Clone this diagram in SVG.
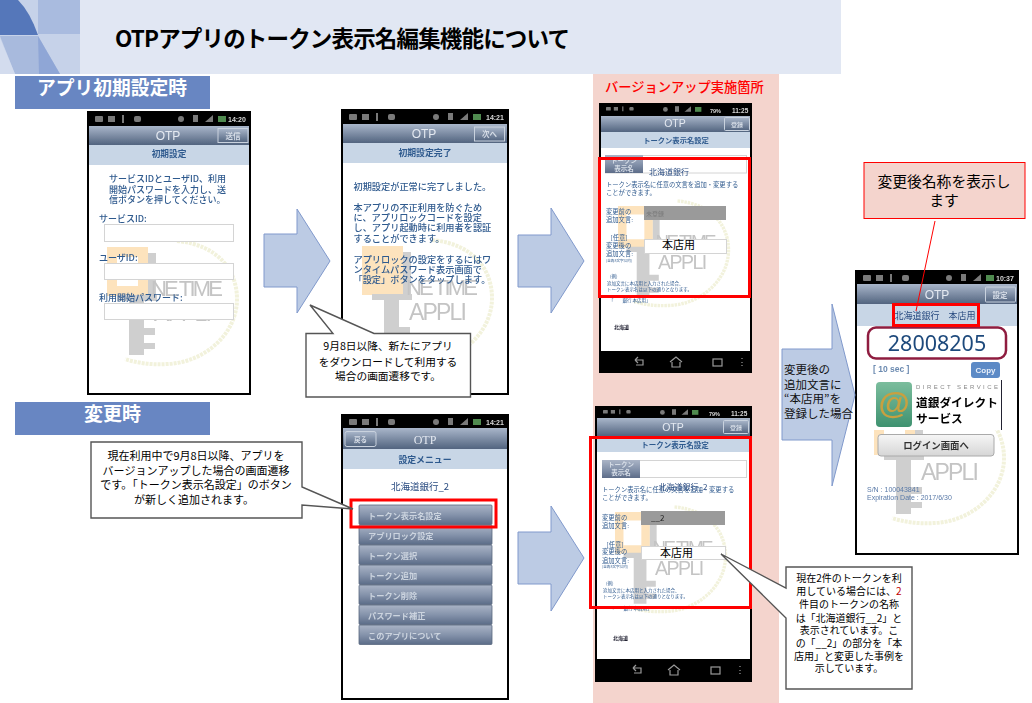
<svg xmlns="http://www.w3.org/2000/svg" xmlns:xlink="http://www.w3.org/1999/xlink" width="1032" height="703" viewBox="0 0 1032 703">
<style>
text{font-family:"Noto Sans CJK JP","Noto Sans",sans-serif}
.lat{font-family:"Liberation Sans",sans-serif}
.c{text-anchor:middle}
.k{fill:#000}
.t{fill:#2f5a8e}
.b{font-weight:700}
.otp{fill:#e4e9f1;font-family:"Liberation Sans",sans-serif;text-anchor:middle}
.bt{fill:#d5dce6;text-anchor:middle;font-weight:700}
.btn{fill:url(#bar);stroke:#c9d2de;stroke-width:1}
.st{fill:#d8d8d8;font-family:"Liberation Sans",sans-serif;font-weight:700}
.sub{fill:#c8d6e6}
.arrow{fill:#bccbe4;stroke:#8099cc;stroke-width:1}
.call{fill:#fff;stroke:#555;stroke-width:1.4}
.red{fill:none;stroke:#f00;stroke-width:3}
.fld{fill:#fff;stroke:#d4d4d4;stroke-width:1}
.mb{fill:url(#mbar);stroke:#59687f;stroke-width:.8}
.mt{fill:#ccd4df;font-weight:700;font-size:8.2px}
.nav{fill:none;stroke:#9a9a9a;stroke-width:1.2}
</style>
<defs>
<linearGradient id="bar" x1="0" y1="0" x2="0" y2="1"><stop offset="0" stop-color="#a9b6ca"/><stop offset="1" stop-color="#52647f"/></linearGradient>
<linearGradient id="mbar" x1="0" y1="0" x2="0" y2="1"><stop offset="0" stop-color="#aab4c6"/><stop offset=".5" stop-color="#8593ab"/><stop offset="1" stop-color="#5c6c88"/></linearGradient>
<linearGradient id="lg" x1="0" y1="0" x2="0" y2="1"><stop offset="0" stop-color="#f6f6f6"/><stop offset="1" stop-color="#d6d6d6"/></linearGradient>
<linearGradient id="gr" x1="0" y1="0" x2="0" y2="1"><stop offset="0" stop-color="#7bbd9d"/><stop offset="1" stop-color="#3f9270"/></linearGradient>
<filter id="soft" x="0" y="0" width="1" height="1"><feGaussianBlur stdDeviation="0.35"/></filter>
<g id="wm">
<path d="M0 0H41V49H0ZM10 10V39H31V10Z" fill="#fde3bd" fill-rule="evenodd"/>
<path d="M41 6H49V49H41ZM10 48H50V54H37V108H22V54H10ZM37 81H48V88H37ZM37 96H48V102H37Z" fill="#cfcfcf"/>
<text class="lat" x="44" y="49" font-size="22" fill="#c4c4c4" textLength="72">NE TIME</text>
<text class="lat" x="47" y="74" font-size="23" fill="#c4c4c4" textLength="58">APPLI</text>
<path d="M70 -6C112 -2 130 24 130 52C130 88 96 116 60 117C44 118 30 116 18 112" fill="none" stroke="#f2f2dc" stroke-width="4" stroke-dasharray="3 1"/>
</g>
<g id="sl" fill="#7a7a7a"><rect x="0" y="0" width="8" height="6" rx="1"/><rect x="13" y="0" width="7" height="6"/><rect x="27" y="-1" width="2" height="8"/><rect x="39" y="0" width="7" height="6" rx="2"/></g>
<g id="sr" fill="#7a7a7a"><circle cx="3" cy="3" r="3"/><rect x="15" y="-1" width="5" height="7"/><path d="M27 6L35 6V-1Z"/><rect x="40" y="0" width="8" height="6" fill="#4f8a4f"/></g>
<g id="nv" class="nav"><path d="M-41 -2H-33V3H-40M-41 -2L-38 -5M-41 -2L-38 1"/><path d="M-6 0L0 -5L6 0M-4 0V5H4V0"/><rect x="37" y="-3" width="9" height="7"/><path d="M66 -4V-3M66 0V1M66 3V4"/></g>
</defs>

<g id="header">
<rect x="0" y="0" width="841" height="74" fill="#e1e7f3"/>
<rect x="0" y="0" width="80" height="74" fill="#c6d2e9"/>
<rect x="38" y="0" width="42" height="34" fill="#a9bbdf"/>
<path d="M0 0H18Q30 12 38 35H0Z" fill="#5577ba"/>
<path d="M0 36H38L60 74H15Z" fill="#a8badd"/>
<path d="M38 36L60 74H39Z" fill="#8fa6d6"/>
<path d="M0 38L15 74H0Z" fill="#d3dcee"/>
<text x="115" y="47" font-size="22.5" font-weight="700" fill="#000" textLength="455">OTPアプリのトークン表示名編集機能について</text>
</g>

<rect id="pink-band" x="593" y="74" width="186" height="629" fill="#f4d4cd"/>
<text id="band-title" x="605" y="92" font-size="13.25" font-weight="500" fill="#f00">バージョンアップ実施箇所</text>

<g id="section-1"><rect x="15" y="76" width="195" height="33" fill="#6886c2"/><text x="37" y="95" font-size="18.75" font-weight="700" fill="#fff">アプリ初期設定時</text></g>
<g id="section-2"><rect x="15" y="402" width="195" height="33" fill="#6886c2"/><text x="112.500" y="421" class="c" font-size="19" font-weight="700" fill="#fff">変更時</text></g>

<g id="phone-1" filter="url(#soft)">
<rect x="87" y="111" width="164" height="284" fill="#000"/>
<rect x="89" y="145" width="160" height="248" fill="#fff"/>
<use href="#wm" transform="translate(107,247)"/>
<rect x="89" y="126" width="160" height="19" fill="url(#bar)"/>
<rect x="89" y="145" width="160" height="20" class="sub"/>
<use href="#sl" x="95" y="116"/><use href="#sr" x="178" y="116"/>
<text class="st" x="228" y="122" font-size="7">14:20</text>
<text class="otp" x="168" y="140" font-size="12">OTP</text>
<rect class="btn" x="218" y="128.500" width="30" height="14"/><text class="bt" x="233" y="138.500" font-size="7.500">送信</text>
<text class="t b c" x="169" y="157" font-size="8.700">初期設定</text>
<g class="t" font-size="9" font-weight="500">
<text x="109" y="182">サービスIDとユーザID、利用</text><text x="109" y="192.500">開始パスワードを入力し、送</text><text x="109" y="203">信ボタンを押してください。</text>
<text x="99" y="222">サービスID:</text></g>
<rect class="fld" x="104.500" y="224.500" width="129" height="17"/>
<text class="t" x="99" y="261" font-size="9" font-weight="500">ユーザID:</text>
<rect class="fld" x="104.500" y="263.500" width="129" height="16"/>
<text class="t" x="99" y="301" font-size="9" font-weight="500">利用開始パスワード:</text>
<rect class="fld" x="104.500" y="303.500" width="129" height="16"/>
</g>

<g id="phone-2" filter="url(#soft)">
<rect x="341" y="109" width="168" height="286" fill="#000"/>
<rect x="343" y="143" width="164" height="250" fill="#fff"/>
<rect x="362" y="246" width="41" height="49" fill="#fde3bd"/>
<use href="#wm" transform="translate(362,246)"/>
<rect x="343" y="124" width="164" height="19" fill="url(#bar)"/>
<rect x="343" y="143" width="164" height="20" class="sub"/>
<use href="#sl" x="349" y="114"/><use href="#sr" x="433" y="114"/>
<text class="st" x="486" y="120" font-size="7">14:21</text>
<text class="otp" x="424" y="138" font-size="12">OTP</text>
<rect class="btn" x="474.500" y="127" width="30" height="14"/><text class="bt" x="489.500" y="137" font-size="7.500">次へ</text>
<text class="t b c" x="425" y="156" font-size="8.900">初期設定完了</text>
<g class="t" font-size="9.200" font-weight="500">
<text x="353.500" y="189.500">初期設定が正常に完了しました。</text>
<text x="353.500" y="210.500">本アプリの不正利用を防ぐため</text><text x="353.500" y="220.500">に、アプリロックコードを設定</text><text x="353.500" y="230.500">し、アプリ起動時に利用者を認証</text><text x="353.500" y="241.500">することができます。</text>
<text x="353.500" y="262.500">アプリロックの設定をするにはワ</text><text x="353.500" y="272.500">ンタイムパスワード表示画面で</text><text x="353.500" y="282.500">「設定」ボタンをタップします。</text>
</g>
</g>

<g id="phone-3" filter="url(#soft)">
<rect x="341" y="414" width="168" height="286" fill="#000"/>
<rect x="343" y="449" width="164" height="249" fill="#fff"/>
<rect x="343" y="428" width="164" height="21" fill="url(#bar)"/>
<rect x="343" y="449" width="164" height="20" class="sub"/>
<use href="#sl" x="349" y="419"/><use href="#sr" x="433" y="419"/>
<text class="st" x="486" y="425" font-size="7">14:21</text>
<text x="425" y="444" text-anchor="middle" font-size="12" fill="#e4e9f1" style="font-family:'Liberation Serif',serif">OTP</text>
<rect class="btn" x="345" y="431.500" width="31" height="15" rx="2"/><text class="bt" x="360.500" y="442" font-size="6.500">戻る</text>
<text class="t b c" x="425" y="463" font-size="8.900">設定メニュー</text>
<text x="420" y="490" class="c" font-size="9.500" fill="#27497f">北海道銀行_2</text>
<rect class="mb" x="359" y="505" width="133" height="19.500" rx="1"/><text class="mt" x="368" y="519">トークン表示名設定</text>
<rect class="mb" x="359" y="525" width="133" height="19.500" rx="1"/><text class="mt" x="368" y="539">アプリロック設定</text>
<rect class="mb" x="359" y="545" width="133" height="19.500" rx="1"/><text class="mt" x="368" y="559">トークン選択</text>
<rect class="mb" x="359" y="565" width="133" height="19.500" rx="1"/><text class="mt" x="368" y="579">トークン追加</text>
<rect class="mb" x="359" y="585" width="133" height="19.500" rx="1"/><text class="mt" x="368" y="599">トークン削除</text>
<rect class="mb" x="359" y="605" width="133" height="19.500" rx="1"/><text class="mt" x="368" y="619">パスワード補正</text>
<rect class="mb" x="359" y="625" width="133" height="19.500" rx="1"/><text class="mt" x="368" y="639">このアプリについて</text>
</g>

<g id="phone-4" filter="url(#soft)">
<rect x="599" y="103" width="153" height="270" fill="#000"/>
<rect x="601" y="132" width="149" height="219" fill="#fff"/>
<use href="#wm" transform="translate(618,206) scale(.85)"/>
<rect x="601" y="116" width="149" height="16" fill="url(#bar)"/>
<rect x="601" y="132" width="149" height="16" class="sub"/>
<use href="#sr" transform="translate(663,107) scale(.8)"/>
<use href="#sl" transform="translate(606,107) scale(.6)"/>
<text class="st" x="710" y="113" font-size="5.500">79%</text><text class="st" x="732" y="113" font-size="6.500" font-weight="400">11:25</text>
<text class="otp" x="675" y="127" font-size="10.500">OTP</text>
<rect class="btn" x="724.500" y="117.500" width="25" height="13" rx="1"/><text class="bt" x="737" y="126.500" font-size="6">登録</text>
<text class="t b c" x="676" y="143" font-size="7.300">トークン表示名設定</text>
<rect class="fld" x="605.500" y="155.500" width="141" height="17.500"/>
<rect x="605" y="155" width="38" height="18" fill="url(#mbar)"/>
<text class="bt" x="624" y="163" font-size="6.500" font-weight="400">トークン</text><text class="bt" x="624" y="171" font-size="6.500" font-weight="400">表示名</text>
<text x="669" y="175" class="c" font-size="8" fill="#27497f">北海道銀行</text>
<g class="t" font-size="6.300"><text x="606" y="186.500">トークン表示名に任意の文言を追加・変更する</text><text x="606" y="194.500">ことができます。</text>
<text x="606" y="213.500">変更前の</text><text x="606" y="221.500">追加文言:</text>
<text x="619" y="239.500" class="c">[任意]</text><text x="606" y="247.500">変更後の</text><text x="606" y="255.500">追加文言:</text></g>
<text class="t" x="606" y="261.500" font-size="3.600">(全角8文字以内)</text>
<rect x="644" y="206" width="82" height="14" fill="#9a9a9a"/>
<text x="646" y="215.500" font-size="6" fill="#7a7a7a">未登録</text>
<rect class="fld" x="644.500" y="239.500" width="82" height="14"/>
<g class="t" font-size="4.500"><text x="610" y="278">(例)</text><text x="607" y="285">追加文言に本店用と入力された場合、</text><text x="607" y="290.500">トークン表示名は以下の通りとなります。</text><text x="609" y="302">「　　銀行 本店用」</text></g>
<text x="614" y="329" font-size="5" font-weight="700" fill="#223">北海道</text>
<use href="#nv" x="676" y="362"/>
</g>

<g id="phone-5" filter="url(#soft)">
<rect x="595" y="406" width="157" height="276" fill="#000"/>
<rect x="597" y="436" width="153" height="223" fill="#fff"/>
<use href="#wm" transform="translate(615,512) scale(.85)"/>
<rect x="597" y="418" width="153" height="18" fill="url(#bar)"/>
<rect x="597" y="436" width="153" height="16" class="sub"/>
<use href="#sr" transform="translate(660,410) scale(.8)"/>
<use href="#sl" transform="translate(603,410) scale(.6)"/>
<text class="st" x="709" y="416" font-size="5.500">79%</text><text class="st" x="731" y="416" font-size="6.500" font-weight="400">11:25</text>
<text class="otp" x="673" y="431" font-size="10.500">OTP</text>
<rect class="btn" x="723.500" y="420.500" width="25" height="13" rx="1"/><text class="bt" x="736" y="429.500" font-size="6">登録</text>
<text class="t b c" x="675" y="447.500" font-size="7.500">トークン表示名設定</text>
<rect class="fld" x="602.500" y="460.500" width="144" height="17"/>
<rect x="602" y="460" width="38" height="18" fill="url(#mbar)"/>
<text class="bt" x="621" y="467" font-size="6.500" font-weight="400">トークン</text><text class="bt" x="621" y="475" font-size="6.500" font-weight="400">表示名</text>
<g class="t" font-size="6.300"><text x="602" y="491.500">トークン表示名に任意の文言を追加・変更する</text><text x="602" y="499.500">ことができます。</text>
<text x="602" y="519.500">変更前の</text><text x="602" y="527.500">追加文言:</text>
<text x="615" y="546.500" class="c">[任意]</text><text x="602" y="553.500">変更後の</text><text x="602" y="562.500">追加文言:</text></g>
<text x="683" y="490" class="c" font-size="8" fill="#27497f">北海道銀行_2</text>
<text class="t" x="602" y="568" font-size="3.600">(全角8文字以内)</text>
<rect x="641" y="511" width="84" height="14" fill="#9a9a9a"/>
<text x="651" y="521" font-size="8" fill="#222">__2</text>
<rect class="fld" x="641.500" y="546.500" width="84" height="13"/>
<g class="t" font-size="4.500"><text x="606" y="585">(例)</text><text x="603" y="592">追加文言に本店用と入力された場合、</text><text x="603" y="597.500">トークン表示名は以下の通りとなります。</text><text x="610" y="610">「　　銀行 本店用」</text></g>
<text x="613" y="640" font-size="5" font-weight="700" fill="#223">北海道</text>
<use href="#nv" x="674" y="670"/>
</g>

<g id="phone-6" filter="url(#soft)">
<rect x="855" y="270" width="164" height="285" fill="#000"/>
<rect x="857" y="304" width="160" height="249" fill="#fff"/>
<use href="#wm" transform="translate(874,406)"/>
<rect x="857" y="284" width="160" height="20" fill="url(#bar)"/>
<rect x="857" y="304" width="160" height="22" class="sub"/>
<use href="#sl" x="863" y="275"/><use href="#sr" x="946" y="275"/>
<text class="st" x="996" y="281" font-size="7">10:37</text>
<text class="otp" x="937" y="299" font-size="12">OTP</text>
<rect class="btn" x="985.500" y="287" width="30" height="15" rx="1"/><text class="bt" x="1000" y="297.500" font-size="7.500">設定</text>
<text x="935" y="318.500" class="c" font-size="9" fill="#27497f">北海道銀行　本店用</text>
<rect x="868" y="327.500" width="138" height="31" rx="8" fill="#fff" stroke="#8f1d3f" stroke-width="2.500"/>
<text x="937" y="351" class="c" font-size="21.500" fill="#1f4a7c" style="font-family:'Noto Sans',sans-serif">28008205</text>
<text class="lat" x="873" y="372" font-size="8.500" font-weight="700" fill="#6b8ab0">[ 10 sec ]</text>
<rect x="971" y="362" width="29" height="16" rx="3" fill="#5b8ac6"/>
<text class="lat c" x="985.500" y="373" font-size="8" font-weight="700" fill="#e8effa">Copy</text>
<rect x="872" y="380" width="130" height="50" fill="#fff"/>
<rect x="1001" y="380" width="1" height="50" fill="#223"/>
<rect x="876" y="382" width="36" height="45" rx="4" fill="url(#gr)"/>
<text class="lat c" x="894" y="414" font-size="32" font-weight="700" fill="#c8a040">@</text>
<text class="lat" x="916" y="389" font-size="6" fill="#888" textLength="82">DIRECT SERVICE</text>
<text x="916" y="407" font-size="11.700" font-weight="700" fill="#000">道銀ダイレクト</text>
<text x="916" y="423" font-size="11.700" font-weight="700" fill="#000">サービス</text>
<rect x="878" y="434.500" width="116" height="21.500" rx="3" fill="url(#lg)" stroke="#aaa"/>
<text class="c" x="936" y="449" font-size="9.400" font-weight="700" fill="#333">ログイン画面へ</text>
<text class="lat" x="867" y="492" font-size="7" fill="#5a7aa8">S/N : 100043841</text>
<text class="lat" x="867" y="500" font-size="7" fill="#5a7aa8">Expiration Date : 2017/6/30</text>
</g>

<g id="arrows">
<path class="arrow" d="M264 234H297V209L330 261L297 313V287H264Z"/>
<path class="arrow" d="M518 235H551V208L584 261L551 313V287H518Z"/>
<path class="arrow" d="M518 532H551V506L584 558L551 611V584H518Z"/>
<path class="arrow" d="M782 349H832V304L855 395L832 486V440H782Z"/>
</g>
<g id="arrow-label" font-size="11.500" fill="#111">
<text x="784" y="374">変更後の</text><text x="784" y="389">追加文言に</text><text x="784" y="403">“本店用”を</text><text x="784" y="418">登録した場合</text>
</g>

<g id="overlay-values" fill="#000" font-size="11">
<text x="662" y="249">本店用</text><text x="660" y="557">本店用</text>
</g>

<g id="highlights">
<rect class="red" x="599.500" y="158.500" width="150" height="138"/>
<rect class="red" x="590.500" y="437.500" width="160" height="170"/>
<rect class="red" x="351" y="500" width="145" height="27"/>
<rect class="red" x="893.500" y="304.500" width="85" height="21"/>
</g>

<g id="connectors">
<path d="M935 221L916 311" fill="none" stroke="#f00" stroke-width="1"/>
</g>

<g id="note-result">
<rect x="864" y="162.500" width="161" height="56" fill="#f4d4cd" stroke="#f00" stroke-width="1"/>
<text x="944" y="186.500" class="c k" font-size="14.800">変更後名称を表示し</text>
<text x="944" y="206" class="c k" font-size="14.800">ます</text>
</g>

<g id="callout-download">
<path class="call" d="M306 333.500H333L310 305L374 333.500H470.500V397H306Z"/>
<g class="c k" font-size="10.700"><text x="388" y="350">9月8日以降、新たにアプリ</text><text x="388" y="366">をダウンロードして利用する</text><text x="388" y="380">場合の画面遷移です。</text></g>
</g>

<g id="callout-versionup">
<path class="call" d="M91 442H302V487L353 509L302 505V518H91Z"/>
<g class="c k" font-size="11"><text x="196" y="460">現在利用中で9月8日以降、アプリを</text><text x="196" y="475">バージョンアップした場合の画面遷移</text><text x="196" y="489">です。「トークン表示名設定」のボタン</text><text x="194" y="504">が新しく追加されます。</text></g>
</g>

<g id="callout-example">
<path class="call" d="M786 567H912V689H786V618L721 554L786 588Z"/>
<g class="c k" font-size="10"><text x="849" y="582">現在2件のトークンを利</text><text x="849" y="595">用している場合には、<tspan fill="#c00000">2</tspan></text><text x="849" y="608">件目のトークンの名称</text><text x="849" y="622">は「北海道銀行__2」と</text><text x="849" y="634">表示されています。こ</text><text x="849" y="647">の「__2」の部分を「本</text><text x="849" y="660">店用」と変更した事例を</text><text x="849" y="672">示しています。</text></g>
</g>
</svg>
